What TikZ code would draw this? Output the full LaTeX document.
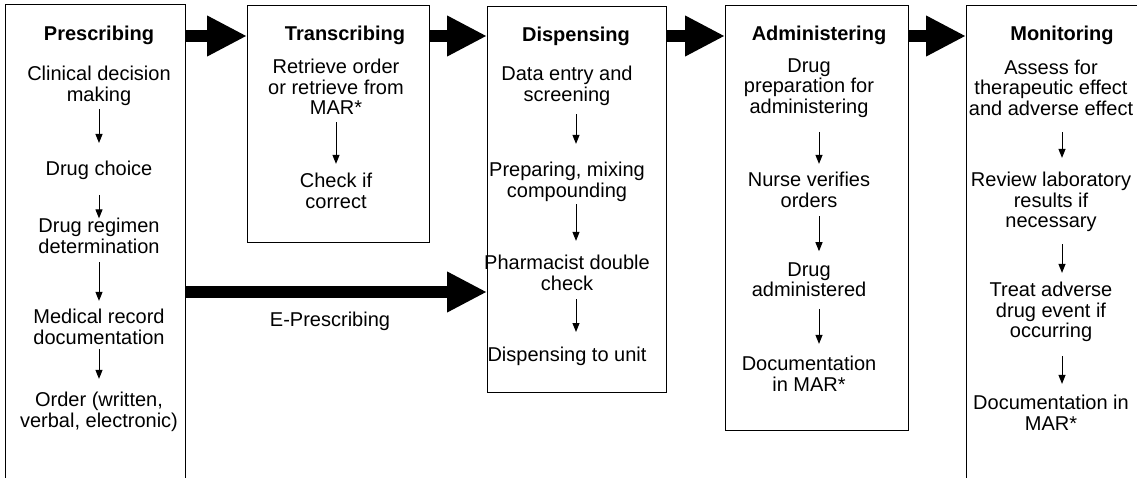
\documentclass[tikz,border=0pt]{standalone}
\usepackage{fontspec}
\setmainfont{Liberation Sans}
\usetikzlibrary{arrows.meta}
\newcommand\mystrt{\rule[-4.25pt]{0pt}{20.5pt}}
\begin{document}
\begin{tikzpicture}[x=1pt,y=-1pt,
  box/.style={draw=black, line width=1pt, inner sep=0pt, outer sep=0pt},
  txt/.style={font=\fontsize{20}{20.5}\selectfont, align=center, inner sep=0pt, outer sep=0pt,
    execute at begin node=\mystrt, execute at end node=\mystrt},
  ttl/.style={txt, font=\fontsize{20}{20.5}\selectfont\bfseries},
  sarrow/.style={line width=1pt, -{Triangle[length=9pt,width=7pt]}},
  bigarrow/.style={line width=12.5pt, -{Triangle[length=40pt,width=38pt]}}]
\useasboundingbox (0,0) rectangle (1137,478);
\clip (0,0) rectangle (1137,478);
\fill[white] (0,0) rectangle (1137,478);

% boxes
\node[box, minimum width=180pt, minimum height=485pt] (pres) at (95,247.5) {};
\node[box, minimum width=182pt, minimum height=237pt] (trans) at (338,124.5) {};
\node[box, minimum width=179pt, minimum height=385pt] (disp) at (576.5,199.5) {};
\node[box, minimum width=183pt, minimum height=424pt] (admin) at (816.5,218) {};
\node[box, minimum width=179pt, minimum height=484pt] (moni) at (1055.5,248) {};

% Prescribing
\node[ttl] (P0) at (99,35) {Prescribing};
\node[txt] (P1) at (99,86) {Clinical decision\\making};
\node[txt] (P2) at (99,170) {Drug choice};
\node[txt] (P3) at (99,238) {Drug regimen\\determination};
\node[txt] (P4) at (99,329) {Medical record\\documentation};
\node[txt] (P5) at (99,412) {Order (written,\\verbal, electronic)};
\draw[sarrow, shorten <=3.5pt, shorten >=16.75pt] (P1.south -| P0) -- (P2.north -| P0);
\draw[sarrow, shorten <=14.75pt, shorten >=0pt] (P2.south -| P0) -- (P3.north -| P0);
\draw[sarrow, shorten <=4.5pt, shorten >=8.5pt] (P3.south -| P0) -- (P4.north -| P0);
\draw[sarrow, shorten <=0.5pt, shorten >=13.5pt] (P4.south -| P0) -- (P5.north -| P0);

% Transcribing
\node[ttl] (T0) at (345,35) {Transcribing};
\node[txt] (T1) at (336,89) {Retrieve order\\or retrieve from\\MAR*};
\node[txt] (T2) at (336,193) {Check if\\correct};
\draw[sarrow, shorten <=3.25pt, shorten >=9.5pt] (T1.south) -- (T2.north);

% Dispensing
\node[ttl] (D0) at (576,36) {Dispensing};
\node[txt] (D1) at (567,86) {Data entry and\\screening};
\node[txt] (D2) at (567,182) {Preparing, mixing\\compounding};
\node[txt] (D3) at (567,275) {Pharmacist double\\check};
\node[txt] (D4) at (567,355) {Dispensing to unit};
\draw[sarrow, shorten <=8.5pt, shorten >=18.5pt] (D1.south -| D0) -- (D2.north -| D0);
\draw[sarrow, shorten <=2.5pt, shorten >=14.5pt] (D2.south -| D0) -- (D3.north -| D0);
\draw[sarrow, shorten <=4.5pt, shorten >=12.75pt] (D3.south -| D0) -- (D4.north -| D0);

% Administering
\node[ttl] (A0) at (819,35) {Administering};
\node[txt] (A1) at (809,88) {Drug\\preparation for\\administering};
\node[txt] (A2) at (809,192) {Nurse verifies\\orders};
\node[txt] (A3) at (809,281.5) {Drug\\administered};
\node[txt] (A4) at (809,376) {Documentation\\in MAR*};
\draw[sarrow, shorten <=14.25pt, shorten >=8.5pt] (A1.south -| A0) -- (A2.north -| A0);
\draw[sarrow, shorten <=4.5pt, shorten >=11pt] (A2.south -| A0) -- (A3.north -| A0);
\draw[sarrow, shorten <=8pt, shorten >=12.5pt] (A3.south -| A0) -- (A4.north -| A0);

% Monitoring
\node[ttl] (M0) at (1062,35) {Monitoring};
\node[txt] (M1) at (1051,89.5) {Assess for\\therapeutic effect\\and adverse effect};
\node[txt] (M2) at (1051,202) {Review laboratory\\results if\\necessary};
\node[txt] (M3) at (1051,312) {Treat adverse\\drug event if\\occurring};
\node[txt] (M4) at (1051,415) {Documentation in\\MAR*};
\draw[sarrow, shorten <=12.75pt, shorten >=14.25pt] (M1.south -| M0) -- (M2.north -| M0);
\draw[sarrow, shorten <=12.25pt, shorten >=9.25pt] (M2.south -| M0) -- (M3.north -| M0);
\draw[sarrow, shorten <=14.25pt, shorten >=11.5pt] (M3.south -| M0) -- (M4.north -| M0);

% big arrows
\coordinate (row) at (0,36);
\draw[bigarrow] (pres.east |- row) -- (trans.west |- row);
\draw[bigarrow] (trans.east |- row) -- (disp.west |- row);
\draw[bigarrow] (disp.east |- row) -- (admin.west |- row);
\draw[bigarrow] (admin.east |- row) -- (moni.west |- row);

% E-prescribing
\coordinate (ep) at (0,292);
\draw[bigarrow] (pres.east |- ep) -- (disp.west |- ep);
\node[txt] (EP) at (330,320) {E-Prescribing};
\end{tikzpicture}
\end{document}
